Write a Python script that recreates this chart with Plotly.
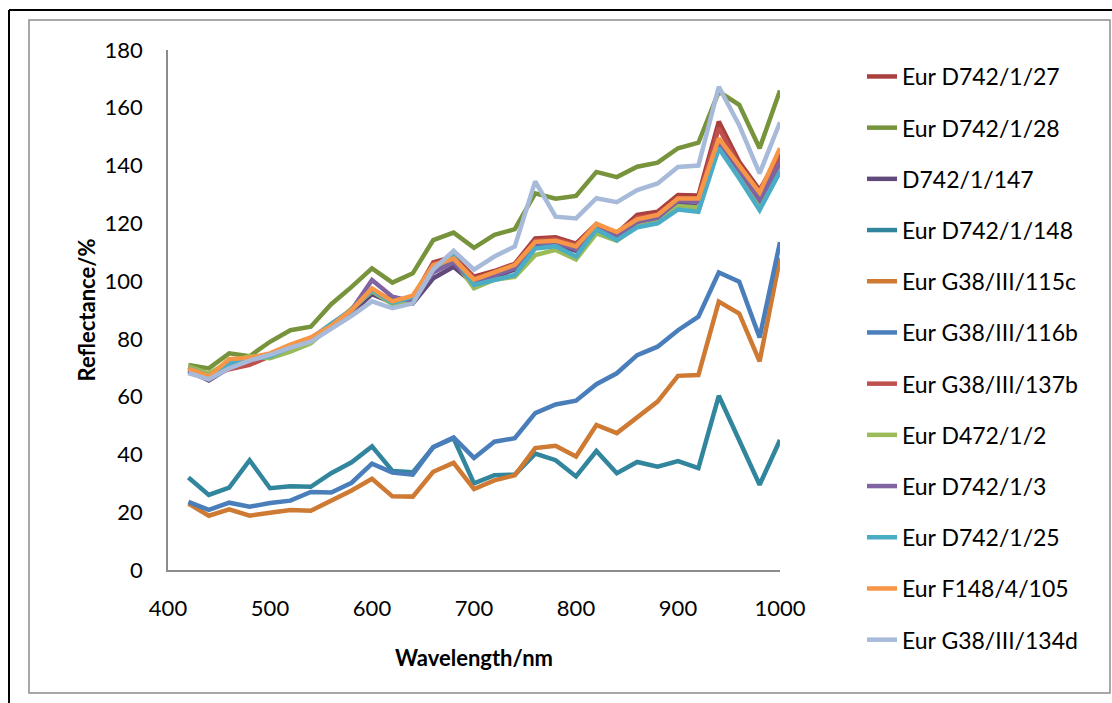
import plotly.graph_objects as go

wavelengths = [420, 440, 460, 480, 500, 520, 540, 560, 580, 600,
               620, 640, 660, 680, 700, 720, 740, 760, 780, 800,
               820, 840, 860, 880, 900, 920, 940, 960, 980, 1000]

eur_d742_1_27 = [70.4, 67.5, 70, 71.5, 74.2, 77.5, 80, 85, 90, 96.5, 93.5, 94, 106.5, 108.5, 101.5,
                 103.5, 106, 114.8, 115.2, 113, 119.8, 116.5, 122.9, 124, 129.8, 129.6, 155.2, 141.3, 131.5, 144]
eur_d742_1_28 = [71, 69.8, 75, 74, 79, 83, 84.2, 92, 98, 104.4, 99.5, 102.7, 114.2, 116.8, 111.5,
                 116, 118, 130.4, 128.5, 129.5, 137.8, 136, 139.6, 141, 146, 147.9, 165.6, 161, 146, 166]
d742_1_147 = [69, 65.6, 70, 72, 74, 77, 79.5, 84.5, 89, 95.5, 92.5, 92.3, 101, 105, 99,
              101.5, 104, 112, 112.5, 110.5, 117, 114.5, 119.5, 121, 126.5, 126, 147, 137.5, 127.5, 141.9]
eur_d742_1_148 = [32, 26, 28.5, 38, 28.3, 29, 28.8, 33.5, 37.3, 42.8, 34.3, 33.8, 42.5, 45.6, 30,
                  32.8, 33, 40.3, 38, 32.4, 41.2, 33.5, 37.4, 35.8, 37.7, 35.3, 60.3, 44.5, 29.5, 45]
eur_g38_115c = [23, 18.8, 21, 18.8, 19.8, 20.8, 20.5, 24, 27.5, 31.6, 25.5, 25.4, 34, 37.1, 28,
                31, 32.8, 42.2, 43, 39.3, 50.2, 47.4, 53, 58.3, 67.2, 67.5, 92.9, 88.8, 72.2, 108]
eur_g38_116b = [23.6, 20.8, 23.3, 21.9, 23.2, 24, 27, 26.8, 30.2, 36.8, 33.7, 33, 42.6, 45.9, 38.8,
                44.4, 45.6, 54.3, 57.3, 58.6, 64.3, 68.1, 74.4, 77.3, 83, 87.7, 103, 99.8, 80.5, 113.5]
eur_g38_137b = [69.5, 67, 69.5, 71, 74, 77.5, 80, 85, 90, 96.8, 93, 94.2, 106, 108, 101,
                102.5, 105, 114, 114.5, 112.5, 119, 116, 122, 123, 128.8, 128.5, 153, 140, 130, 143]
eur_d472_1_2 = [70.5, 68, 72, 74, 73.3, 75.6, 78.5, 84.5, 90, 96.5, 92, 93.5, 104, 107.5, 97.5,
                100.5, 101.5, 109, 110.8, 107.5, 116.5, 114, 119, 120.5, 126, 125.5, 146.5, 136.5, 126, 139]
eur_d742_1_3 = [68.5, 66, 70.5, 72.5, 74.5, 77.5, 80, 85, 90, 100.4, 94.6, 93, 103, 106.5, 99.5,
                102, 104.5, 113, 113.5, 111, 118, 115.5, 120.5, 122, 127.8, 127.5, 148, 138.5, 128, 141]
eur_d742_1_25 = [70, 67, 71.5, 73, 74, 77, 80, 85.2, 90, 97, 92.5, 94.5, 105, 108.5, 98.7,
                 100.4, 102.1, 111.3, 112.1, 108.5, 117.9, 114.2, 118.6, 120, 124.8, 124, 146, 135.6, 124.6, 137.9]
eur_f148_4_105 = [69.8, 67, 73, 73.5, 75, 78, 80.5, 84.5, 90, 97.5, 93, 95, 105.5, 107.8, 100.5,
                  103, 105.6, 113.6, 114, 112, 119.8, 117, 121.4, 122.9, 128.6, 128.6, 149.4, 140, 130.6, 146]
eur_g38_134d = [68.2, 66, 69.8, 72.5, 74.5, 77, 79, 83.5, 88, 93, 90.6, 92.3, 104, 110.5, 104,
                108.5, 112, 134.5, 122.3, 121.7, 128.7, 127.3, 131.5, 133.8, 139.5, 140, 167.3, 154, 137.3, 155]

series_names = ["Eur D742/1/27", "Eur D742/1/28", "D742/1/147", "Eur D742/1/148",
                "Eur G38/III/115c", "Eur G38/III/116b", "Eur G38/III/137b", "Eur D472/1/2",
                "Eur D742/1/3", "Eur D742/1/25", "Eur F148/4/105", "Eur G38/III/134d"]
series_values = [eur_d742_1_27, eur_d742_1_28, d742_1_147, eur_d742_1_148,
                 eur_g38_115c, eur_g38_116b, eur_g38_137b, eur_d472_1_2,
                 eur_d742_1_3, eur_d742_1_25, eur_f148_4_105, eur_g38_134d]
series_colors = ["#A9403E", "#77933C", "#604A7B", "#31859C", "#CF7A33", "#4A7EBB",
                 "#C0504D", "#9BBB59", "#8064A2", "#4BACC6", "#F79646", "#A7BAD9"]

x_ticks = [400, 500, 600, 700, 800, 900, 1000]
y_ticks = [0, 20, 40, 60, 80, 100, 120, 140, 160, 180]

FONT = "Lato, 'Open Sans', sans-serif"

fig = go.Figure()
for i, (name, vals, col) in enumerate(zip(series_names, series_values, series_colors)):
    fig.add_trace(go.Scatter(
        x=wavelengths, y=vals, mode="lines", name=name,
        line=dict(color=col, width=4.5), legendgroup=f"g{i}",
    ))

W, H = 1112, 703
# horizontal plot area: 168..780 px; plotting region (margins) 20..663 px vertically,
# axes occupy 50..570 px via the y-axis domain
L, R = 168, 780
PT, PB = 20, 663
AXT, AXB = 50, 570

def px(x):
    return (x - L) / (R - L)
def py(y):
    return (PB - y) / (PB - PT)

shapes = [
    # outer black frame (top and left)
    dict(type="line", xref="paper", yref="paper", x0=px(9), x1=px(1112), y0=py(10), y1=py(10),
         line=dict(color="black", width=2)),
    dict(type="line", xref="paper", yref="paper", x0=px(9), x1=px(9), y0=py(10), y1=py(703),
         line=dict(color="black", width=2)),
    # inner grey chart border
    dict(type="rect", xref="paper", yref="paper", x0=px(29), x1=px(1110), y0=py(20), y1=py(693),
         line=dict(color="#8C8C8C", width=1.5)),
]

fig.update_layout(
    width=W, height=H,
    margin=dict(l=L, r=W - R, t=PT, b=H - PB, autoexpand=False),
    paper_bgcolor="white", plot_bgcolor="white",
    font=dict(family=FONT, size=22, color="black"),
    shapes=shapes,
    showlegend=True,
    legend=dict(
        x=px(862), y=py(55), xanchor="left", yanchor="top",
        font=dict(family=FONT, size=23, color="black"),
        tracegroupgap=18.3, bgcolor="rgba(0,0,0,0)",
    ),
    xaxis=dict(
        range=[400, 1000], tickvals=x_ticks, ticktext=[str(v) for v in x_ticks],
        showgrid=False, zeroline=False, showline=True, linecolor="#8C8C8C", linewidth=1.5,
        ticks="", ticklabelstandoff=18,
        title=dict(text="<b>Wavelength/nm</b>", standoff=30, font=dict(family=FONT, size=22)),
        automargin=False,
    ),
    yaxis=dict(
        range=[0, 180], tickvals=y_ticks, ticktext=[str(v) for v in y_ticks],
        domain=[py(AXB), py(AXT)],
        showgrid=False, zeroline=False, showline=True, linecolor="#8C8C8C", linewidth=1.5,
        ticks="", ticklabelstandoff=19,
        title=dict(text="<b>Reflectance/%</b>", standoff=3, font=dict(family=FONT, size=22)),
        automargin=False,
    ),
)

fig.write_html("out.html")
